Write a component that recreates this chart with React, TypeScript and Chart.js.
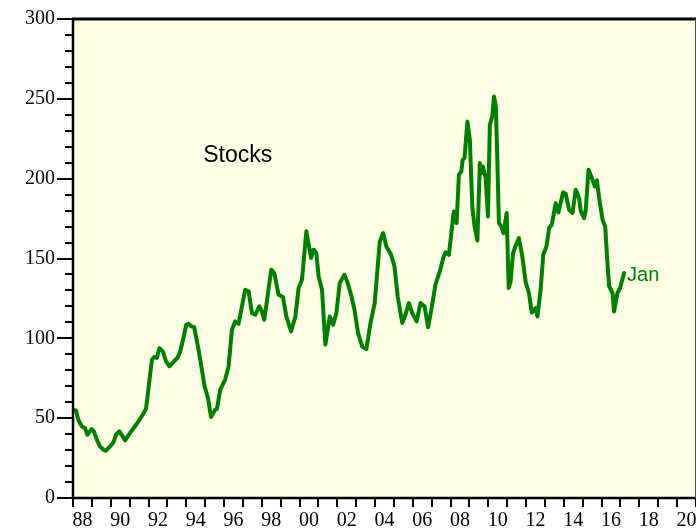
import React, { useEffect, useRef } from 'react';
import { Chart, registerables } from 'chart.js';

Chart.register(...registerables);

// Time (decimal year) of each observation
const years = [
  1988.0, 1988.16, 1988.28, 1988.46, 1988.64, 1988.76, 1988.99, 1989.11, 1989.26, 1989.43,
  1989.61, 1989.73, 1989.96, 1990.14, 1990.28, 1990.46, 1990.58, 1990.76, 1991.02, 1991.38,
  1991.7, 1991.87, 1991.99, 1992.18, 1992.3, 1992.44, 1992.58, 1992.76, 1992.93, 1993.11,
  1993.32, 1993.53, 1993.68, 1993.85, 1994.0, 1994.12, 1994.26, 1994.42, 1994.65, 1994.74,
  1994.97, 1995.15, 1995.31, 1995.53, 1995.62, 1995.8, 1996.06, 1996.24, 1996.42, 1996.59,
  1996.77, 1996.95, 1997.12, 1997.3, 1997.48, 1997.66, 1997.87, 1998.01, 1998.13, 1998.28,
  1998.5, 1998.66, 1998.89, 1999.12, 1999.3, 1999.55, 1999.78, 1999.95, 2000.13, 2000.36,
  2000.61, 2000.75, 2000.89, 2001.01, 2001.19, 2001.37, 2001.6, 2001.78, 2001.95, 2002.13,
  2002.38, 2002.55, 2002.73, 2002.91, 2003.1, 2003.32, 2003.54, 2003.76, 2003.98, 2004.25,
  2004.43, 2004.6, 2004.85, 2005.03, 2005.2, 2005.44, 2005.61, 2005.79, 2005.97, 2006.2,
  2006.41, 2006.62, 2006.81, 2006.98, 2007.2, 2007.43, 2007.61, 2007.73, 2007.91, 2008.09,
  2008.17, 2008.32, 2008.44, 2008.57, 2008.64, 2008.74, 2008.89, 2009.02, 2009.15, 2009.27,
  2009.42, 2009.55, 2009.63, 2009.71, 2009.86, 2009.98, 2010.08, 2010.21, 2010.3, 2010.4,
  2010.48, 2010.56, 2010.69, 2010.8, 2010.86, 2010.97, 2011.08, 2011.18, 2011.31, 2011.43,
  2011.62, 2011.8, 2011.98, 2012.15, 2012.3, 2012.51, 2012.6, 2012.77, 2012.91, 2013.08,
  2013.22, 2013.36, 2013.57, 2013.71, 2013.96, 2014.1, 2014.28, 2014.46, 2014.63, 2014.81,
  2014.9, 2015.07, 2015.16, 2015.31, 2015.52, 2015.64, 2015.75, 2015.87, 2016.05, 2016.19,
  2016.31, 2016.4, 2016.58, 2016.66, 2016.84, 2016.98, 2017.19,
];

// Stock index values
const stocks = [
  55.3, 54.7, 49, 44.8, 43.8, 39.6, 43.2, 41.7, 36.5, 32.3,
  30.2, 29.6, 32.3, 34.8, 39.6, 41.7, 39.6, 36.1, 40.7, 46.5,
  52.2, 55.9, 67.8, 86.6, 88.3, 87.7, 93.9, 91.8, 85.5, 82.4,
  85.2, 87.7, 91.8, 100.2, 108.5, 109.1, 107.5, 107, 92.9, 86.6,
  69.9, 62.6, 50.7, 55.3, 55.7, 67.8, 74.2, 82.4, 105.4, 110.6,
  109.1, 120, 130.4, 129.4, 115.8, 114.8, 120, 116.8, 111.6, 124.2,
  143, 140.9, 127.3, 125.9, 113.7, 104.3, 113.7, 131.5, 136.7, 167,
  150.3, 155.5, 153.4, 138.8, 130.4, 96.1, 113.7, 108.5, 115.8, 134.6,
  139.8, 134.6, 127.3, 117.9, 103.3, 94.9, 93.3, 109.6, 122.1, 160.7,
  165.9, 157.5, 152.3, 145, 126.2, 109.6, 114.8, 122.1, 115.8, 110.6,
  122.1, 120, 107, 117.9, 133.6, 141.9, 150.3, 153.8, 152.3, 171.1,
  179.5, 172.2, 202.4, 204.5, 211.8, 212.9, 235.8, 224.4, 182.6, 170.1,
  161.3, 209.8, 203.5, 207.6, 200.4, 176.3, 233.8, 239, 251.5, 245.2,
  209.8, 172.2, 170.1, 165.9, 170.1, 178.5, 131.5, 135.6, 153.4, 157.5,
  162.8, 151.3, 135, 128.4, 116.2, 119, 113.7, 130.4, 152.3, 157.5,
  169.1, 171.1, 184.7, 178.8, 191.4, 190.5, 180.5, 178.5, 193, 187.9,
  179.5, 175.3, 180.5, 205.6, 199.3, 195.1, 198.9, 187.9, 174.3, 170.1,
  147.1, 132.5, 128.4, 116.8, 128.4, 131.5, 140.9,
];

const yMajorTicks = [0, 50, 100, 150, 200, 250, 300];
const xRange = [1988, 2021];
const yRange = [0, 300];
const seriesName = 'Stocks';
const endLabel = 'Jan';
const titlePos = { year: 1994.9, value: 210.5 };

const GREEN = '#008000';
const PLOT_BG = '#FFFFE6';

const decor = {
  id: 'decor',
  beforeDraw(chart: any) {
    const { ctx, chartArea: a } = chart;
    ctx.save();
    ctx.fillStyle = PLOT_BG;
    ctx.fillRect(a.left, a.top, a.right - a.left, a.bottom - a.top);
    ctx.restore();
  },
  afterDraw(chart: any) {
    const { ctx, chartArea: a, scales } = chart;
    const xs = scales.x;
    const ys = scales.y;
    ctx.save();
    ctx.strokeStyle = '#000';
    ctx.lineWidth = 2;
    ctx.lineCap = 'butt';
    ys.ticks.forEach((t: any) => {
      const y = Math.round(ys.getPixelForValue(t.value));
      const len = yMajorTicks.includes(t.value) ? 16 : 8;
      ctx.beginPath();
      ctx.moveTo(a.left - len, y);
      ctx.lineTo(a.left, y);
      ctx.stroke();
    });
    xs.ticks.forEach((t: any) => {
      const x = Math.round(xs.getPixelForValue(t.value));
      ctx.beginPath();
      ctx.moveTo(x, a.bottom);
      ctx.lineTo(x, a.bottom + 9);
      ctx.stroke();
    });
    // frame
    ctx.lineWidth = 3;
    ctx.beginPath();
    ctx.moveTo(a.left - 1, a.top);
    ctx.lineTo(a.right, a.top);
    ctx.stroke();
    ctx.lineWidth = 2.5;
    ctx.beginPath();
    ctx.moveTo(a.left, a.top);
    ctx.lineTo(a.left, a.bottom);
    ctx.lineTo(a.right, a.bottom);
    ctx.stroke();
    ctx.lineWidth = 1;
    ctx.strokeStyle = '#555';
    ctx.beginPath();
    ctx.moveTo(a.right - 0.5, a.top);
    ctx.lineTo(a.right - 0.5, a.bottom);
    ctx.stroke();

    // texts
    ctx.fillStyle = '#000';
    ctx.font = '23px "Liberation Sans", Arial, sans-serif';
    ctx.textAlign = 'left';
    ctx.textBaseline = 'alphabetic';
    ctx.fillText(seriesName, xs.getPixelForValue(titlePos.year), ys.getPixelForValue(titlePos.value));

    const li = years.length - 1;
    ctx.fillStyle = GREEN;
    ctx.font = '20px "Liberation Sans", Arial, sans-serif';
    ctx.fillText(endLabel, xs.getPixelForValue(years[li]) + 3, ys.getPixelForValue(stocks[li]) + 7.5);
    ctx.restore();
  },
};

export default function App() {
  const ref = useRef<HTMLCanvasElement>(null);
  useEffect(() => {
    if (!ref.current) return;
    const chart = new Chart(ref.current, {
      type: 'line',
      data: {
        datasets: [
          {
            label: seriesName,
            data: years.map((x, i) => ({ x, y: stocks[i] })),
            borderColor: GREEN,
            borderWidth: 4,
            pointRadius: 0,
            tension: 0,
            borderJoinStyle: 'round',
            borderCapStyle: 'round',
            fill: false,
          },
        ],
      },
      options: {
        animation: false,
        responsive: true,
        maintainAspectRatio: false,
        layout: { padding: { top: 19, left: 0, right: 0, bottom: 0 } },
        plugins: { legend: { display: false }, tooltip: { enabled: false } },
        scales: {
          x: {
            type: 'linear',
            min: xRange[0],
            max: xRange[1],
            border: { display: false },
            grid: { display: false, drawTicks: false },
            afterFit: (axis: any) => {
              axis.height = 33;
              axis.paddingLeft = 0;
              axis.paddingRight = 0;
              axis.paddingTop = 0;
              axis.paddingBottom = 0;
            },
            ticks: {
              stepSize: 1,
              autoSkip: false,
              maxRotation: 0,
              padding: 11,
              labelOffset: 9.4,
              color: '#000',
              font: { family: '"Liberation Serif", "Times New Roman", serif', size: 20 },
              callback: (v: any) => (Number(v) % 2 === 0 ? String(Number(v) % 100).padStart(2, '0') : ''),
            },
          },
          y: {
            min: yRange[0],
            max: yRange[1],
            border: { display: false },
            grid: { display: false, drawTicks: false },
            afterFit: (axis: any) => {
              axis.width = 73;
              axis.paddingTop = 0;
              axis.paddingBottom = 0;
              axis.paddingLeft = 0;
              axis.paddingRight = 0;
            },
            ticks: {
              stepSize: 10,
              autoSkip: false,
              padding: 18,
              color: '#000',
              font: { family: '"Liberation Serif", "Times New Roman", serif', size: 20 },
              callback: (v: any) => (yMajorTicks.includes(Number(v)) ? String(v) : ''),
            },
          },
        },
      },
      plugins: [decor],
    });
    return () => chart.destroy();
  }, []);
  return (
    <div style={{ position: 'absolute', left: 0, top: 0, width: 696, height: 531 }}>
      <canvas ref={ref} />
    </div>
  );
}
